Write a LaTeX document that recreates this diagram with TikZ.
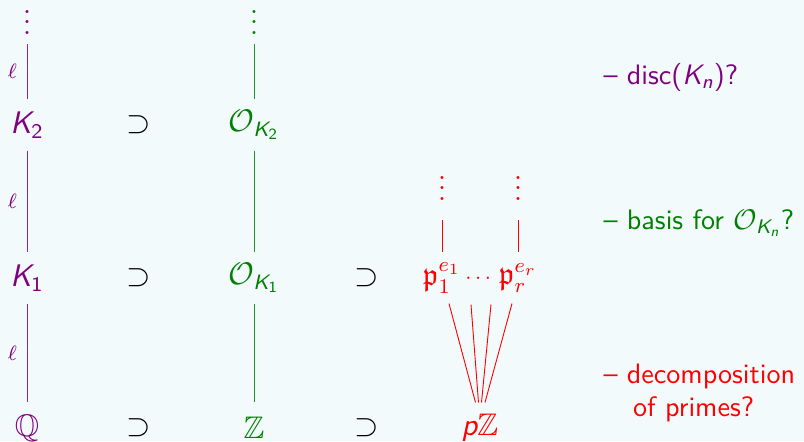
\documentclass[tikz,border=0pt]{standalone}
\usepackage{amsmath,amssymb}
\usetikzlibrary{positioning,calc}
\DeclareMathAlphabet{\mathsfit}{\encodingdefault}{\sfdefault}{m}{sl}
\newcommand{\Kf}[1]{\mathsfit{K}_{\mathsf{#1}}}
\definecolor{grund}{RGB}{242,250,252}
\definecolor{lila}{RGB}{128,0,128}
\definecolor{gruen}{RGB}{0,128,0}
\tikzset{
  stufe/.style={inner sep=0pt,minimum height=0.675cm,font=\fontsize{12}{14}\selectfont},
  punkte/.style={inner sep=0pt,outer sep=0.135cm,anchor=south,font=\fontsize{12}{14}\selectfont},
  ell/.style={inner sep=0pt,left=1.3mm,font=\fontsize{8}{9}\selectfont},
  frage/.style={inner sep=0pt,anchor=west,align=left,font=\sffamily\fontsize{10.8}{12.6}\selectfont},
  lin/.style={line width=0.35pt},
}
\begin{document}
\begin{tikzpicture}[x=0.0135cm,y=-0.0135cm]
  \fill[grund] (0,0) rectangle (804,441);
  \useasboundingbox (0,0) rectangle (804,441);
  % Koerper
  \node[punkte,lila] (Kt) at (27,44) {$\vdots$};
  \node[stufe,lila] (K2) at (27,125) {$\Kf{2}$};
  \node[stufe,lila] (K1) at (27,278) {$\Kf{1}$};
  \node[stufe,lila] (Q) at (27,428) {$\mathbb{Q}$};
  \draw[lin,lila!85] (Kt) -- node[ell,lila]{$\ell$} (K2);
  \draw[lin,lila!85] (K2) -- node[ell,lila]{$\ell$} (K1);
  \draw[lin,lila!85] (K1) -- node[ell,lila]{$\ell$} (Q);
  % Ganzheitsringe
  \node[punkte,gruen] (Ot) at (254,44) {$\vdots$};
  \node[stufe,gruen] (O2) at (254,125) {$\mathcal{O}_{\Kf{2}}$};
  \node[stufe,gruen] (O1) at (254,278) {$\mathcal{O}_{\Kf{1}}$};
  \node[stufe,gruen] (Z) at (254,428) {$\mathbb{Z}$};
  \draw[lin,gruen!85] (Ot) -- (O2);
  \draw[lin,gruen!85] (O2) -- (O1);
  \draw[lin,gruen!85] (O1) -- (Z);
  % Inklusionen
  \node[stufe] (s1) at (139,125) {$\supset$};
  \node[stufe] (s2) at (139,278) {$\supset$};
  \node[stufe] (s3) at (139,428) {$\supset$};
  \node[stufe] (s4) at (367,278) {$\supset$};
  \node[stufe] (s5) at (367,428) {$\supset$};
  % Primideale
  \node[stufe,red] (pa) at (442,278) {$\mathfrak{p}_1^{e_1}$};
  \node[stufe,red,font=\fontsize{8}{10}\selectfont] (pd) at (480,279) {$\cdots$};
  \node[stufe,red] (pb) at (518,278) {$\mathfrak{p}_r^{e_r}$};
  \node[punkte,red,outer sep=0.27cm] (pat) at (442,220) {$\vdots$};
  \node[punkte,red,outer sep=0.27cm] (pbt) at (518,220) {$\vdots$};
  \node[stufe,red] (pZ) at (480,428) {$\mathsfit{p}\mathbb{Z}$};
  \draw[lin,red] (pat) -- (pa);
  \draw[lin,red] (pbt) -- (pb);
  \draw[lin,red] ($(pa.south)+(7,0)$) -- ($(pZ.north)+(-4.5,0)$);
  \draw[lin,red] ($(pd.south)+(-9,0)$) -- ($(pZ.north)+(-1.5,0)$);
  \draw[lin,red] ($(pd.south)+(11,0)$) -- ($(pZ.north)+(1.5,0)$);
  \draw[lin,red] ($(pb.south)+(-6,0)$) -- ($(pZ.north)+(5,0)$);
  % Fragen
  \node[frage,lila] (f1) at (603,77) {-- disc($\mathsfit{K}_{\mathsfit{n}}$)?};
  \node[frage,gruen] (f2) at (603,223) {-- basis for $\mathcal{O}_{\mathsfit{K}_{\mathsfit{n}}}$?};
  \node[frage,red] (f3) at (603,393) {-- decomposition\\\hspace*{4mm}of primes?};
\end{tikzpicture}
\end{document}
